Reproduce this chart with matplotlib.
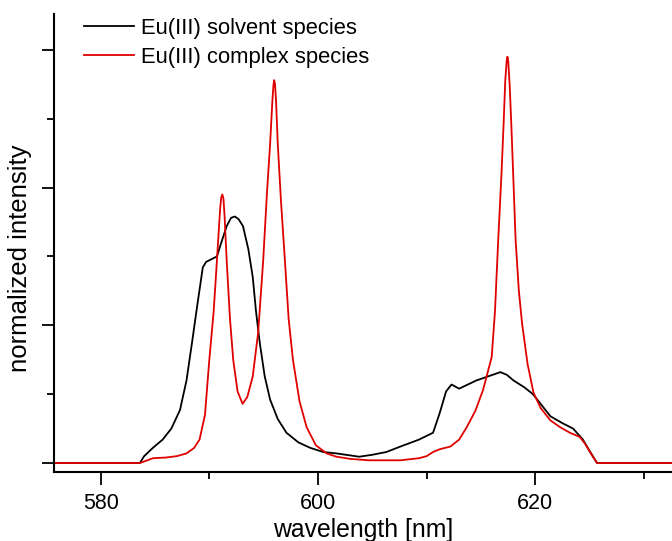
import matplotlib
matplotlib.use("Agg")
import matplotlib.pyplot as plt
from matplotlib.ticker import MultipleLocator, NullFormatter

plt.rcParams['font.family'] = ['Liberation Sans', 'DejaVu Sans']

# Eu(III) complex species (red)
red_nm = [575.7, 583.6, 584.3, 584.8, 586.0, 587.0, 587.9, 588.6, 589.1, 589.6,
          590.0, 590.4, 590.7, 591.0, 591.1, 591.2, 591.3, 591.4, 591.6, 591.9,
          592.2, 592.6, 593.06, 593.5, 594.0, 594.5, 594.96, 595.3, 595.6, 595.8,
          595.9, 595.97, 596.05, 596.15, 596.3, 596.6, 596.96, 597.3, 597.7, 598.3,
          598.96, 599.8, 600.8, 601.7, 603.0, 604.7, 606.0, 607.6, 609.3, 610.0,
          610.6, 611.2, 612.2, 613.0, 613.7, 614.5, 615.2, 616.0, 616.3, 616.6,
          616.9, 617.1, 617.25, 617.38, 617.45, 617.52, 617.65, 617.8, 618.0, 618.2,
          618.5, 618.8, 619.3, 619.85, 620.5, 621.4, 622.3, 623.2, 624.1, 624.6,
          625.2, 625.7, 632.6]
red_int = [0.0, 0.0, 0.02, 0.035, 0.04, 0.05, 0.07, 0.11, 0.17, 0.35,
           0.75, 1.10, 1.47, 1.85, 1.93, 1.95, 1.92, 1.80, 1.47, 1.05,
           0.75, 0.52, 0.43, 0.48, 0.63, 0.95, 1.47, 1.95, 2.32, 2.62,
           2.74, 2.78, 2.75, 2.62, 2.32, 1.90, 1.47, 1.05, 0.75, 0.45,
           0.26, 0.13, 0.07, 0.046, 0.03, 0.02, 0.02, 0.02, 0.035, 0.05,
           0.08, 0.10, 0.12, 0.17, 0.26, 0.38, 0.53, 0.77, 1.10, 1.62,
           2.10, 2.47, 2.78, 2.92, 2.95, 2.92, 2.75, 2.47, 2.05, 1.62,
           1.25, 1.01, 0.72, 0.51, 0.40, 0.31, 0.26, 0.22, 0.19, 0.14,
           0.06, 0.0, 0.0]

# Eu(III) solvent species (black)
blk_nm = [575.7, 583.6, 584.0, 584.8, 585.7, 586.5, 587.3, 587.9, 588.4, 588.9,
          589.4, 589.7, 590.2, 590.7, 591.1, 591.6, 592.0, 592.35, 592.7, 593.1,
          593.6, 594.0, 594.3, 594.65, 595.1, 595.6, 596.3, 597.1, 598.2, 599.3,
          600.5, 601.7, 603.8, 605.0, 606.3, 607.6, 609.3, 610.6, 611.2, 611.8,
          612.3, 613.0, 614.6, 615.7, 616.8, 617.4, 618.0, 619.0, 619.8, 620.6,
          621.4, 622.5, 623.5, 624.4, 625.0, 625.7, 632.6]
blk_int = [0.0, 0.0, 0.05, 0.11, 0.17, 0.25, 0.385, 0.60, 0.87, 1.15,
           1.42, 1.46, 1.48, 1.50, 1.60, 1.72, 1.78, 1.79, 1.77, 1.72,
           1.55, 1.35, 1.10, 0.87, 0.63, 0.46, 0.32, 0.22, 0.15, 0.11,
           0.08, 0.07, 0.046, 0.06, 0.08, 0.12, 0.17, 0.22, 0.36, 0.52,
           0.57, 0.54, 0.60, 0.63, 0.66, 0.64, 0.60, 0.55, 0.50, 0.42,
           0.34, 0.29, 0.25, 0.17, 0.09, 0.0, 0.0]

x_ticks = [580, 600, 620]
x_tick_labels = ["580", "600", "620"]

fig = plt.figure(figsize=(6.72, 5.41), dpi=100)
ax = fig.add_axes([54/672, 69/541, 1 - 54/672, (472 - 14)/541])

ax.plot(blk_nm, blk_int, color='black', lw=1.3, label='Eu(III) solvent species')
ax.plot(red_nm, red_int, color='#e00000', lw=1.3, label='Eu(III) complex species')

ax.set_xlim(575.7, 632.6)
ax.set_ylim(-0.065, 3.26)

ax.set_xticks(x_ticks)
ax.set_xticklabels(x_tick_labels)
ax.xaxis.set_minor_locator(MultipleLocator(10))
ax.yaxis.set_major_locator(MultipleLocator(1))
ax.yaxis.set_minor_locator(MultipleLocator(0.5))
ax.yaxis.set_major_formatter(NullFormatter())

for s in ['top', 'right']:
    ax.spines[s].set_visible(False)
for s in ['left', 'bottom']:
    ax.spines[s].set_linewidth(1.5)

ax.tick_params(axis='both', which='major', direction='out', length=9, width=1.3,
               labelsize=15.5, pad=6)
ax.tick_params(axis='both', which='minor', direction='out', length=5, width=1.3)

ax.set_xlabel('wavelength [nm]', fontsize=17.8, labelpad=3)
ax.set_ylabel('normalized intensity', fontsize=18.5, labelpad=0)
ax.yaxis.set_label_coords(-22/618, (472 - 258.5) / 458)

ax.legend(loc='upper left', bbox_to_anchor=(0.03, 1.015), frameon=False,
          fontsize=15.8, handlelength=2.3, handletextpad=0.3, labelspacing=0.35,
          borderaxespad=0.1)

fig.savefig('out.png', dpi=100)
